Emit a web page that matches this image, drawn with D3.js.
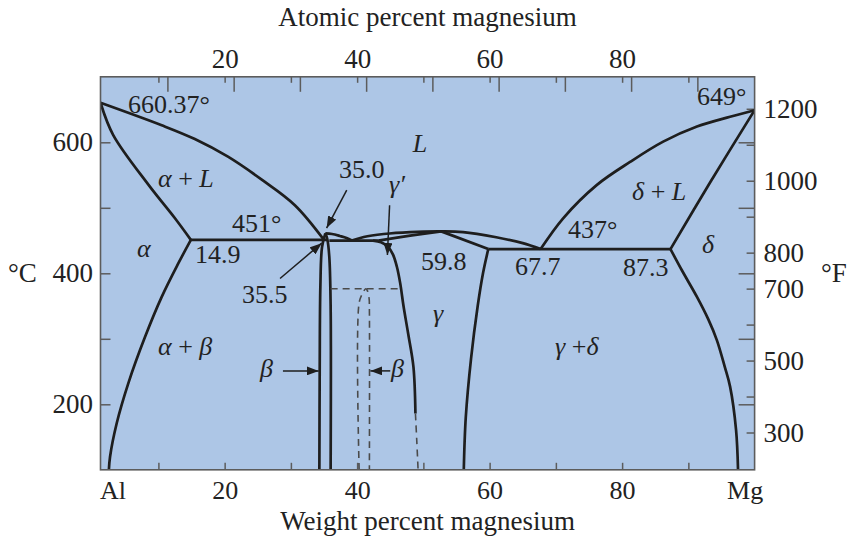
<!DOCTYPE html>
<html><head><meta charset="utf-8">
<script src="https://cdn.jsdelivr.net/npm/d3@7"></script>
<style>
html,body{margin:0;padding:0;background:#fff;}
svg{display:block;font-family:"Liberation Serif","Times New Roman",serif;}
</style></head><body>
<svg id="chart" width="855" height="536"></svg>
<script>
// Al–Mg equilibrium phase diagram.
// Compositions in weight percent Mg, temperatures in °C.

// --- phase boundaries [wt% Mg, °C] ---
const liquidusAl        = [[0,660.37],[10.5,626],[15.5,605],[20.5,578],[25.6,543],[30.6,504],[35.0,451]];
const solidusAlpha      = [[0,660.37],[2.2,611],[8.3,535],[12.5,484],[14.9,451]];
const solvusAlpha       = [[14.9,451],[13.0,415],[10.5,364],[7.7,303],[4.8,232],[2.8,171],[1.65,120],[1.45,100]];
const betaLeft          = [[34.3,100],[34.35,250],[34.45,380],[34.7,440],[35.2,461]];
const betaRight         = [[35.2,461],[35.5,452],[35.8,425],[36.0,350],[36.0,100]];
const liquidusBeta      = [[35.2,461],[36.2,460],[37.4,457],[38.4,454],[39.2,450]];
const liquidusGamma     = [[39.2,450],[41,455.5],[44,460],[48,463],[52.7,464],[56,463],[61,455],[65,446],[67.7,437]];
const solidusGammaLeft  = [[43.2,450],[48,457.5],[52.7,464]];
const solidusGammaRight = [[52.7,464],[59.8,437]];
const solvusGammaLeft   = [[42.4,450],[43.6,447.5],[44.6,441],[45.4,429],[46.0,410],[46.5,385],[47.0,350],[47.7,308],[48.5,257],[48.8,186]];
const solvusGammaLow    = [[48.8,186],[49.0,145],[49.2,100]];
const solvusGammaRight  = [[59.8,437],[59.0,400],[58.2,350],[57.2,270],[56.4,180],[56.1,100]];
const liquidusMg        = [[67.7,437],[71.1,484],[76.2,535],[81.2,570],[86.2,601],[91.3,624],[96.3,639],[100,649]];
const solidusDelta      = [[87.3,437],[93.3,539],[100,649]];
const solvusDelta       = [[87.3,437],[89.0,405],[91.3,364],[93.0,330],[94.3,298],[95.5,257],[96.3,227],[97.2,161],[97.5,100]];
const eutectics         = [[14.9,35.5,451],[35.8,43.2,450],[59.8,87.3,437]];   // [from, to, °C]
const betaPrimeLine     = [[36.0,376.5],[46.7,376.5]];
const betaPrimeDome     = [[40.3,100],[40.3,355],[40.8,369],[41.3,376.5],[41.5,374.5],[41.8,362],[41.85,345],[41.85,100]];

// --- annotations [text, wt% Mg, °C] (text start, baseline) ---
const labels = [
  ["660.37°",4.75,644.7], ["649°",91.3,656.9], ["L",48.4,585.2],
  ["α + L",9.93,531.8], ["35.0",37.26,545.5], ["γ′",44.81,522.6],
  ["451°",21.11,463.1], ["α",6.3,424.9], ["14.9",15.53,415.7],
  ["35.5",22.62,354.7], ["α + β",9.93,275.3], ["β",25.34,241.7],
  ["β",45.11,241.7], ["γ",51.46,325.6], ["59.8",49.64,405],
  ["67.7",63.83,397.4], ["437°",71.84,453.9], ["87.3",80.14,395.9],
  ["δ",92.07,431], ["δ + L",81.5,511.9], ["γ +δ",69.87,275.3]
];
const arrows = [   // [fromWt, fromT, toWt, toT]
  [38.43,527,35.39,469], [28.36,392,34.65,446],
  [28.8,251,34.2,251], [45.0,251,42.0,251], [44.9,504,44.57,428]
];

// --- axes ---
const wtTicks        = [10,20,30,40,50,60,70,80,90];
const wtLabels       = [0,20,40,60,80,100];
const atomicLabels   = [20,40,60,80];
const celsiusTicks   = [200,300,400,500,600];
const celsiusLabels  = [200,400,600];
const fahrTicks      = [300,400,500,600,700,800,900,1000,1100,1200];
const fahrLabels     = [300,500,700,800,1000,1200];

const svg = d3.select("#chart");
const ink = "#1e1e1e", frameInk = "#5c5c5c", textInk = "#222";

const x = d3.scaleLinear().domain([0,10,100]).range([100.5,158.4,754.6]);
const y = d3.scaleLinear().domain([100,700]).range([469.8,76.8]);
const yF = d3.scaleLinear().domain([196.3,1288.9]).range([469.8,76.8]);

const L = x(0), R = x(100), T = y(700), B = y(100);

svg.append("defs").append("clipPath").attr("id","plot")
  .append("rect").attr("x",L).attr("y",T).attr("width",R-L).attr("height",B-T);
svg.select("defs").append("marker").attr("id","head")
  .attr("markerUnits","userSpaceOnUse").attr("markerWidth",13).attr("markerHeight",9)
  .attr("refX",12).attr("refY",4.5).attr("orient","auto")
  .append("path").attr("d","M0,0 L12,4.5 L0,9 Z").attr("fill",ink);

svg.append("rect").attr("x",L).attr("y",T).attr("width",R-L).attr("height",B-T)
  .attr("fill","#adc6e6");

// tick marks
function ticks(axis, tx, ty){
  const g = svg.append("g").attr("transform",`translate(${tx},${ty})`).call(axis.tickFormat(""));
  g.select(".domain").remove();
  g.selectAll(".tick line").attr("stroke",frameInk).attr("stroke-width",1.5);
  return g;
}
ticks(d3.axisBottom(x).tickValues(wtTicks).tickSize(-7), 0, B);
ticks(d3.axisTop(x).tickValues(wtTicks).tickSize(-6), 0, T);
ticks(d3.axisTop(x).tickValues(wtTicks).tickSize(-15), 9, T);
ticks(d3.axisLeft(y).tickValues(celsiusTicks).tickSize(-10), L, 0);
ticks(d3.axisRight(y).tickValues(celsiusTicks).tickSize(-16), R, 0);
ticks(d3.axisRight(yF).tickValues(fahrTicks).tickSize(-8), R, 0);

// tick labels
function labelAxis(axis, tx, ty, size){
  const g = svg.append("g").attr("transform",`translate(${tx},${ty})`).call(axis.tickSize(0));
  g.select(".domain").remove();
  g.attr("font-family",null).attr("font-size",null);
  g.selectAll("text").attr("font-size",size).attr("fill",textInk);
  return g;
}
const plain = d3.format("d");
const bottomLab = labelAxis(d3.axisBottom(x).tickValues(wtLabels).tickPadding(11)
  .tickFormat(d => d===0 ? "Al" : d===100 ? "Mg" : plain(d)), 0, B, 26);
bottomLab.selectAll("text").filter(d=>d===0).attr("text-anchor","start").attr("dx",-1);
bottomLab.selectAll("text").filter(d=>d===100).attr("dx",-10);
labelAxis(d3.axisTop(x).tickValues(atomicLabels).tickPadding(9).tickFormat(plain), 0, T, 27);
labelAxis(d3.axisLeft(y).tickValues(celsiusLabels).tickPadding(7.5).tickFormat(plain), L, 0, 27);
labelAxis(d3.axisRight(yF).tickValues(fahrLabels).tickPadding(9).tickFormat(plain), R, 0, 27);

// axis titles
const title = (t, tx, ty, anchor) => svg.append("text").attr("x",tx).attr("y",ty)
  .attr("text-anchor",anchor).attr("font-size",27).attr("fill",textInk).text(t);
title("Atomic percent magnesium", (L+R)/2, 26, "middle");
title("Weight percent magnesium", (L+R)/2, 529.5, "middle");
title("°C", 8, 282, "start");
title("°F", 821, 282, "start");

// phase boundaries
const plot = svg.append("g").attr("clip-path","url(#plot)");
const smooth = d3.line().x(d=>x(d[0])).y(d=>y(d[1])).curve(d3.curveCatmullRom.alpha(0.5));
const straight = d3.line().x(d=>x(d[0])).y(d=>y(d[1]));

const solid = [liquidusAl, solidusAlpha, solvusAlpha, betaLeft, betaRight, liquidusBeta,
  liquidusGamma, solidusGammaLeft, solvusGammaLeft, solvusGammaRight, liquidusMg,
  solvusDelta, solidusGammaRight, solidusDelta];
solid.forEach(s => plot.append("path").attr("d",smooth(s)).attr("fill","none")
  .attr("stroke",ink).attr("stroke-width",2.7).attr("stroke-linejoin","round"));
eutectics.forEach(e => plot.append("path").attr("d",straight([[e[0],e[2]],[e[1],e[2]]]))
  .attr("stroke",ink).attr("stroke-width",2.7));

[solvusGammaLow, betaPrimeLine, betaPrimeDome].forEach(s => plot.append("path")
  .attr("d",smooth(s)).attr("fill","none").attr("stroke","#4a4a4a")
  .attr("stroke-width",1.6).attr("stroke-dasharray","7,5"));

// frame on top
svg.append("rect").attr("x",L).attr("y",T).attr("width",R-L).attr("height",B-T)
  .attr("fill","none").attr("stroke",frameInk).attr("stroke-width",1.6);

// annotations
arrows.forEach(a => svg.append("line")
  .attr("x1",x(a[0])).attr("y1",y(a[1])).attr("x2",x(a[2])).attr("y2",y(a[3]))
  .attr("stroke",ink).attr("stroke-width",1.5).attr("marker-end","url(#head)"));

labels.forEach(([t,w,c]) => {
  const tx = svg.append("text").attr("x",x(w)).attr("y",y(c))
    .attr("font-size",26).attr("fill",textInk);
  t.split(/([αβγδL]′?)/).filter(s=>s.length).forEach(part => {
    tx.append("tspan").attr("font-style", /[αβγδL]/.test(part) ? "italic" : null).text(part);
  });
});
</script>
</body></html>
